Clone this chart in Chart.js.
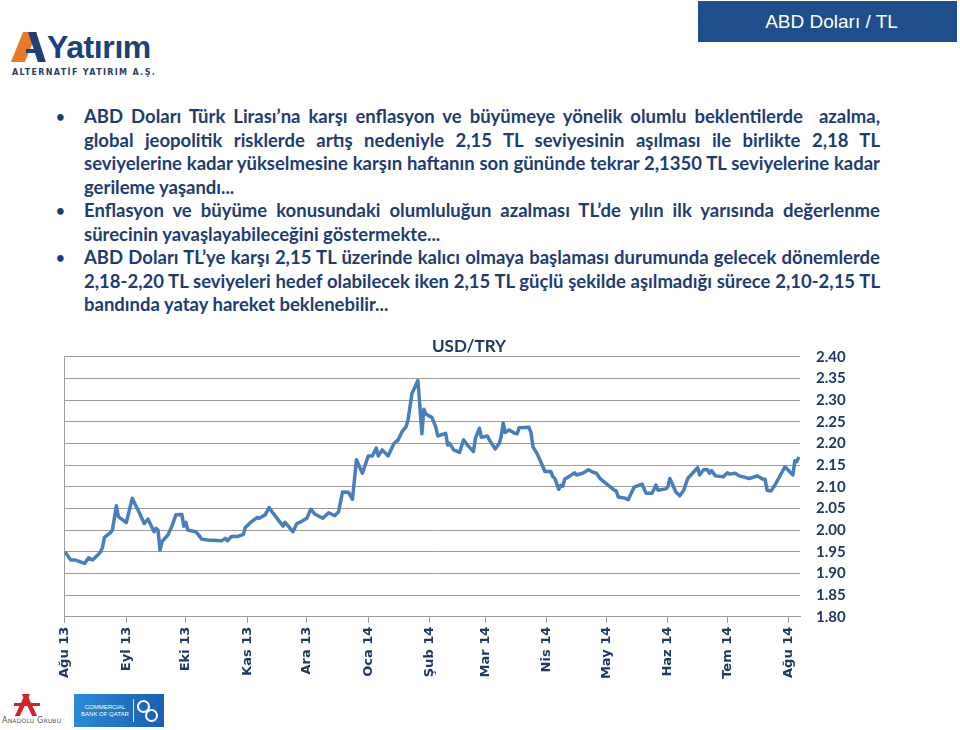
<!DOCTYPE html>
<html lang="tr">
<head>
<meta charset="utf-8">
<title>ABD Doları / TL</title>
<script src="https://cdn.jsdelivr.net/npm/chart.js@4.4.1/dist/chart.umd.min.js"></script>
<style>
	html, body { margin: 0; padding: 0; background: #fff; }
	body { width: 960px; height: 730px; position: relative; overflow: hidden; font-family: Lato, 'Open Sans', sans-serif; }

	.header {
		position: absolute; left: 698px; top: 1px; width: 259px; height: 41px;
		background: #1F4E8C; color: #fff; text-align: center;
		font: 19px 'Liberation Sans', Arial, sans-serif; line-height: 41px; padding-left: 8px; box-sizing: border-box;
	}

	/* Alternatif Yatırım logo */
	.logo-or { position: absolute; left: 17px; top: 32px; width: 14px; height: 30px; background: #E8782A; transform: skewX(-22deg); }
	.logo-nv { position: absolute; left: 33px; top: 32px; width: 8px; height: 30px; background: #1E3F78; transform: skewX(18deg); }
	.logo-bar { position: absolute; left: 26px; top: 49px; width: 16px; height: 4px; background: #1E3F78; }
	.logo-txt { position: absolute; left: 47px; top: 29px; color: #1E3F78; font: bold 32px 'Liberation Sans', Arial, sans-serif; letter-spacing: -0.4px; }
	.logo-sub { position: absolute; left: 12px; top: 68px; color: #2A3F66; font: bold 8px 'DejaVu Sans', sans-serif; letter-spacing: 1.35px; }

	.notes { position: absolute; left: 84px; top: 105px; width: 796px; color: #1F3C70; font-weight: bold; font-size: 18.5px; line-height: 23.5px; }
	.notes .item { position: relative; }
	.notes .item::before { content: '\2022'; position: absolute; left: -28px; top: 0; font-size: 15px; color: #1F3C70; }
	.notes .j { text-align: justify; text-align-last: justify; }

	.chart-box { position: absolute; left: 18px; top: 330px; width: 902px; height: 360px; }

	/* footer logos */
	.ag-1 { position: absolute; left: 20px; top: 694px; width: 5px; height: 22px; background: #D2232A; transform: skewX(-25deg); }
	.ag-2 { position: absolute; left: 27px; top: 694px; width: 5px; height: 22px; background: #D2232A; transform: skewX(25deg); }
	.ag-3 { position: absolute; left: 14px; top: 703px; width: 26px; height: 3px; background: #D2232A; }
	.ag-txt { position: absolute; left: 2px; top: 716px; color: #555; font: 8px 'DejaVu Sans', sans-serif; font-variant: small-caps; letter-spacing: 0.2px; }
	.cbq { position: absolute; left: 74px; top: 694px; width: 90px; height: 33px; background: linear-gradient(90deg, #2B8AD6, #1A5FB0); }
	.cbq-txt { position: absolute; left: 6px; top: 10px; width: 50px; color: #fff; font: 6px 'Liberation Sans', Arial, sans-serif; line-height: 7px; text-align: center; }
	.cbq-line { position: absolute; left: 59px; top: 5px; width: 1px; height: 23px; background: #cfe3f7; }
	.cbq-r1, .cbq-r2 { position: absolute; width: 9px; height: 9px; border: 2px solid #fff; border-radius: 50%; }
	.cbq-r1 { left: 63px; top: 6px; }
	.cbq-r2 { left: 71px; top: 15px; }
</style>
</head>
<body>

<div class="header">ABD Doları / TL</div>

<div class="logo-or"></div>
<div class="logo-nv"></div>
<div class="logo-bar"></div>
<div class="logo-txt">Yatırım</div>
<div class="logo-sub">ALTERNATİF YATIRIM A.Ş.</div>

<div class="notes">
	<div class="item">
		<div class="j">ABD Doları Türk Lirası’na karşı enflasyon ve büyümeye yönelik olumlu beklentilerde&nbsp; azalma,</div>
		<div class="j">global jeopolitik risklerde artış nedeniyle 2,15 TL seviyesinin aşılması ile birlikte 2,18 TL</div>
		<div class="j">seviyelerine kadar yükselmesine karşın haftanın son gününde tekrar 2,1350 TL seviyelerine kadar</div>
		<div>gerileme yaşandı...</div>
	</div>
	<div class="item">
		<div class="j">Enflasyon ve büyüme konusundaki olumluluğun azalması TL’de yılın ilk yarısında değerlenme</div>
		<div>sürecinin yavaşlayabileceğini göstermekte...</div>
	</div>
	<div class="item">
		<div class="j">ABD Doları TL’ye karşı 2,15 TL üzerinde kalıcı olmaya başlaması durumunda gelecek dönemlerde</div>
		<div class="j">2,18-2,20 TL seviyeleri hedef olabilecek iken 2,15 TL güçlü şekilde aşılmadığı sürece 2,10-2,15 TL</div>
		<div>bandında yatay hareket beklenebilir...</div>
	</div>
</div>

<div class="chart-box"><canvas id="usd-try"></canvas></div>

<div class="ag-1"></div>
<div class="ag-2"></div>
<div class="ag-3"></div>
<div class="ag-txt">Anadolu Grubu</div>
<div class="cbq">
	<div class="cbq-txt">COMMERCIAL<br>BANK OF QATAR</div>
	<div class="cbq-line"></div>
	<div class="cbq-r1"></div>
	<div class="cbq-r2"></div>
</div>

<script>
/* global Chart */

// Month axis: tick dates and their labels.
var monthStarts = [
	'2013-08-01', '2013-09-01', '2013-10-01', '2013-11-01', '2013-12-01', '2014-01-01', '2014-02-01',
	'2014-03-01', '2014-04-01', '2014-05-01', '2014-06-01', '2014-07-01', '2014-08-01'
];
var monthLabels = [
	'Ağu 13', 'Eyl 13', 'Eki 13', 'Kas 13', 'Ara 13', 'Oca 14', 'Şub 14',
	'Mar 14', 'Nis 14', 'May 14', 'Haz 14', 'Tem 14', 'Ağu 14'
];

// Value axis ticks.
var yTicks = [1.80, 1.85, 1.90, 1.95, 2.00, 2.05, 2.10, 2.15, 2.20, 2.25, 2.30, 2.35, 2.40];

// USD/TRY.
var dates = [
	'2013-08-01', '2013-08-04', '2013-08-06', '2013-08-11', '2013-08-13', '2013-08-15', '2013-08-18',
	'2013-08-19', '2013-08-20', '2013-08-21', '2013-08-24', '2013-08-25', '2013-08-27', '2013-08-28',
	'2013-09-01', '2013-09-04', '2013-09-08', '2013-09-10', '2013-09-12', '2013-09-15', '2013-09-16',
	'2013-09-17', '2013-09-18', '2013-09-19', '2013-09-22', '2013-09-24', '2013-09-26', '2013-09-29',
	'2013-09-30', '2013-10-01', '2013-10-02', '2013-10-06', '2013-10-07', '2013-10-09', '2013-10-12',
	'2013-10-19', '2013-10-21', '2013-10-22', '2013-10-24', '2013-10-27', '2013-10-30', '2013-10-31',
	'2013-11-03', '2013-11-06', '2013-11-07', '2013-11-10', '2013-11-12', '2013-11-14', '2013-11-19',
	'2013-11-20', '2013-11-24', '2013-11-26', '2013-11-28', '2013-12-01', '2013-12-03', '2013-12-05',
	'2013-12-09', '2013-12-12', '2013-12-15', '2013-12-17', '2013-12-19', '2013-12-22', '2013-12-24',
	'2013-12-26', '2013-12-29', '2014-01-01', '2014-01-03', '2014-01-05', '2014-01-06', '2014-01-08',
	'2014-01-11', '2014-01-13', '2014-01-14', '2014-01-16', '2014-01-18', '2014-01-20', '2014-01-21',
	'2014-01-23', '2014-01-26', '2014-01-27', '2014-01-28', '2014-01-29', '2014-01-30', '2014-02-02',
	'2014-02-04', '2014-02-05', '2014-02-09', '2014-02-10', '2014-02-11', '2014-02-13', '2014-02-16',
	'2014-02-18', '2014-02-20', '2014-02-23', '2014-02-24', '2014-02-26', '2014-02-27', '2014-03-02',
	'2014-03-03', '2014-03-06', '2014-03-08', '2014-03-09', '2014-03-10', '2014-03-11', '2014-03-13',
	'2014-03-16', '2014-03-17', '2014-03-18', '2014-03-23', '2014-03-24', '2014-03-25', '2014-03-27',
	'2014-03-30', '2014-03-31', '2014-04-03', '2014-04-04', '2014-04-05', '2014-04-07', '2014-04-08',
	'2014-04-09', '2014-04-10', '2014-04-14', '2014-04-15', '2014-04-16', '2014-04-19', '2014-04-22',
	'2014-04-24', '2014-04-26', '2014-04-28', '2014-05-05', '2014-05-06', '2014-05-07', '2014-05-10',
	'2014-05-12', '2014-05-13', '2014-05-15', '2014-05-19', '2014-05-21', '2014-05-24', '2014-05-26',
	'2014-05-27', '2014-05-31', '2014-06-01', '2014-06-02', '2014-06-05', '2014-06-07', '2014-06-09',
	'2014-06-11', '2014-06-15', '2014-06-16', '2014-06-17', '2014-06-19', '2014-06-21', '2014-06-22',
	'2014-06-23', '2014-06-25', '2014-06-29', '2014-07-01', '2014-07-02', '2014-07-05', '2014-07-07',
	'2014-07-12', '2014-07-16', '2014-07-19', '2014-07-20', '2014-07-21', '2014-07-23', '2014-07-25',
	'2014-07-30', '2014-08-03', '2014-08-04', '2014-08-05', '2014-08-06'
];
var usdTry = [
	1.950, 1.931, 1.931, 1.923, 1.936, 1.931, 1.944,
	1.950, 1.960, 1.983, 1.994, 2.000, 2.056, 2.031,
	2.017, 2.073, 2.036, 2.015, 2.025, 1.996, 2.004,
	2.000, 1.954, 1.973, 1.989, 2.009, 2.035, 2.036,
	2.009, 2.018, 2.000, 1.996, 1.991, 1.979, 1.977,
	1.975, 1.981, 1.975, 1.985, 1.985, 1.990, 2.006,
	2.019, 2.029, 2.027, 2.035, 2.052, 2.039, 2.009,
	2.018, 1.996, 2.015, 2.019, 2.027, 2.048, 2.037,
	2.027, 2.040, 2.033, 2.042, 2.088, 2.087, 2.071,
	2.162, 2.131, 2.171, 2.171, 2.189, 2.171, 2.185,
	2.171, 2.191, 2.200, 2.208, 2.227, 2.238, 2.254,
	2.315, 2.345, 2.285, 2.222, 2.279, 2.268, 2.260,
	2.238, 2.217, 2.223, 2.196, 2.200, 2.185, 2.179,
	2.208, 2.196, 2.181, 2.212, 2.235, 2.214, 2.217,
	2.208, 2.187, 2.200, 2.217, 2.247, 2.225, 2.231,
	2.223, 2.222, 2.236, 2.237, 2.225, 2.192, 2.177,
	2.146, 2.135, 2.135, 2.123, 2.119, 2.094, 2.103,
	2.101, 2.117, 2.129, 2.132, 2.127, 2.131, 2.139,
	2.134, 2.131, 2.118, 2.092, 2.090, 2.076, 2.074,
	2.070, 2.080, 2.099, 2.106, 2.085, 2.085, 2.104,
	2.092, 2.095, 2.100, 2.119, 2.088, 2.079, 2.092,
	2.119, 2.139, 2.144, 2.127, 2.139, 2.139, 2.131,
	2.137, 2.125, 2.123, 2.132, 2.129, 2.131, 2.125,
	2.119, 2.125, 2.117, 2.117, 2.092, 2.090, 2.104,
	2.146, 2.127, 2.160, 2.158, 2.169
];

(function () {
	'use strict';

	var COLORS = {
		line: '#4A7EBB',
		grid: '#9C9C9C',
		text: '#1F3864',
	};

	var START = Date.UTC(2013, 7, 1);

	/**
	 * Days since 1 Aug 2013 for a 'YYYY-MM-DD' string.
	 */
	function dayOf(s) {
		var p = s.split('-');
		return (Date.UTC(+p[0], +p[1] - 1, +p[2]) - START) / 86400000;
	}

	function init() {
		var canvas = document.getElementById('usd-try');
		var points = dates.map(function (d, i) {
			return { x: dayOf(d), y: usdTry[i] };
		});
		var monthTicks = monthStarts.map(dayOf);

		new Chart(canvas, {
			type: 'line',
			data: {
				datasets: [{
					data: points,
					borderColor: COLORS.line,
					borderWidth: 3.5,
					borderJoinStyle: 'round',
					pointRadius: 0,
					tension: 0,
					fill: false,
				}],
			},
			options: {
				responsive: true,
				maintainAspectRatio: false,
				animation: false,
				layout: { padding: { top: 0.3 } },
				plugins: {
					legend: { display: false },
					tooltip: { enabled: false },
					title: {
						display: true,
						text: 'USD/TRY',
						color: COLORS.text,
						font: { family: 'Lato', weight: 'bold', size: 17 },
						padding: { top: 6, bottom: 0 },
					},
				},
				scales: {
					x: {
						type: 'linear',
						min: 0,
						max: dayOf('2014-08-06') + 0.6,
						afterBuildTicks: function (scale) {
							scale.ticks = monthTicks.map(function (v) { return { value: v }; });
						},
						afterFit: function (scale) { scale.height = 73.3; },
						grid: {
							drawOnChartArea: false,
							tickLength: 6,
							color: COLORS.grid,
							tickColor: COLORS.grid,
						},
						border: { display: true, color: COLORS.grid },
						ticks: {
							autoSkip: false,
							minRotation: 90,
							maxRotation: 90,
							padding: 4,
							color: COLORS.text,
							font: { family: 'DejaVu Sans', weight: 'bold', size: 13 },
							callback: function (val, i) { return monthLabels[i]; },
						},
					},
					y: {
						position: 'right',
						min: 1.80,
						max: 2.40,
						afterBuildTicks: function (scale) {
							scale.ticks = yTicks.map(function (v) { return { value: v }; });
						},
						afterFit: function (scale) { scale.width = 120; },
						grid: { color: COLORS.grid, drawTicks: false },
						border: { display: false },
						ticks: {
							padding: 16,
							color: COLORS.text,
							font: { family: 'Lato', weight: 'bold', size: 15 },
							callback: function (val) { return val.toFixed(2); },
						},
					},
					// Only here for the left border line of the plot.
					yLeft: {
						position: 'left',
						min: 0,
						max: 1,
						afterFit: function (scale) { scale.width = 46.8; },
						grid: { display: false },
						border: { display: true, color: COLORS.grid },
						ticks: { display: false },
					},
				},
			},
		});
	}

	if (document.readyState === 'loading') {
		document.addEventListener('DOMContentLoaded', init);
	} else {
		init();
	}
}());
</script>
</body>
</html>
